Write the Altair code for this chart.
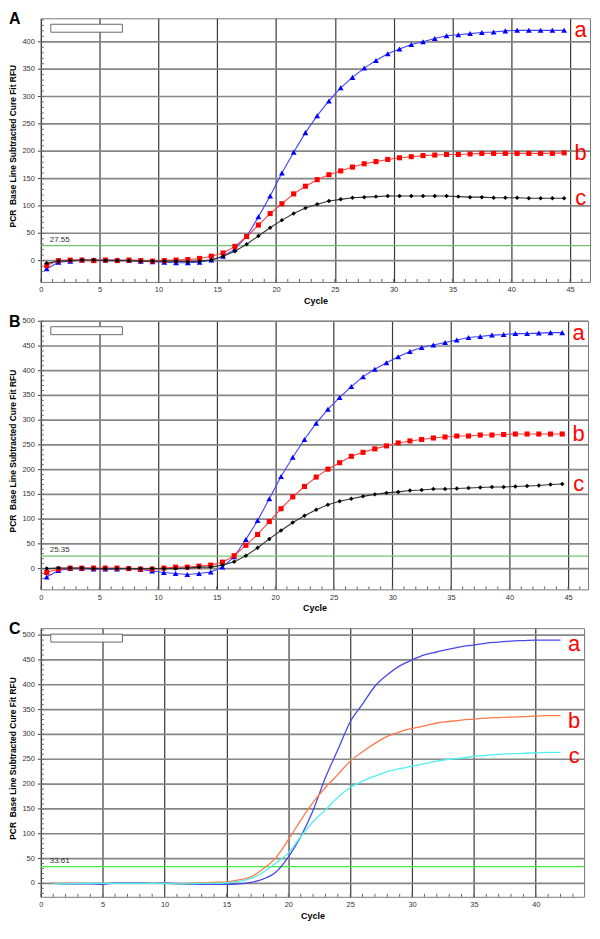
import altair as alt
import pandas as pd

FONT = "Liberation Sans"

# ---------------- data ----------------
CYCLES_AB = [0.5, 1.5, 2.5, 3.5, 4.5, 5.5, 6.5, 7.5, 8.5, 9.5,
             10.5, 11.5, 12.5, 13.5, 14.5, 15.5, 16.5, 17.5, 18.5, 19.5,
             20.5, 21.5, 22.5, 23.5, 24.5, 25.5, 26.5, 27.5, 28.5, 29.5,
             30.5, 31.5, 32.5, 33.5, 34.5, 35.5, 36.5, 37.5, 38.5, 39.5,
             40.5, 41.5, 42.5, 43.5, 44.5]

A_a = [-15, -3, -1, 1, 1, 1, 1, 0, -1, -2,
       -3, -4, -4, -3, 1, 8, 21, 44, 80, 118,
       160, 198, 234, 265, 292, 316, 335, 352, 366, 378,
       387, 395, 400, 406, 411, 413, 415, 417, 418, 420,
       421, 421, 421, 421, 421]
A_b = [-9, 0, 1, 1, 0, 1, 0, 1, 0, -1,
       0, 1, 2, 4, 8, 14, 26, 44, 65, 86,
       104, 122, 136, 148, 157, 164, 171, 177, 181, 185,
       188, 190, 192, 193, 194, 194, 195, 196, 196, 196,
       196, 196, 196, 196, 197]
A_c = [-5, -1, 0, 1, 1, 0, 0, 0, -1, -1,
       -1, -1, -2, -1, 1, 8, 17, 30, 45, 60,
       74, 86, 96, 103, 109, 112, 115, 116, 117, 118,
       118, 118, 118, 118, 118, 117, 116, 116, 115, 115,
       115, 114, 114, 114, 114]

B_a = [-17, -4, 0, 0, -1, -1, -1, 1, -2, -5,
       -8, -10, -12, -10, -7, 3, 24, 59, 97, 141,
       186, 225, 261, 294, 322, 346, 368, 388, 403, 416,
       428, 439, 447, 452, 457, 462, 467, 469, 472, 473,
       475, 475, 476, 477, 477]
B_b = [-8, -1, 1, 1, 1, 1, 1, 0, -1, -1,
       1, 3, 3, 5, 7, 13, 26, 47, 69, 95,
       121, 145, 166, 185, 201, 214, 227, 235, 242, 248,
       254, 258, 261, 264, 266, 268, 268, 270, 270, 271,
       272, 272, 272, 272, 272]
B_c = [0, 1, 1, 1, 0, 0, 0, 0, 0, 0,
       0, 0, 1, 3, 3, 7, 14, 26, 42, 60,
       77, 93, 107, 119, 129, 136, 141, 146, 150, 153,
       155, 158, 159, 161, 161, 162, 163, 164, 165, 165,
       166, 167, 168, 170, 171]

CYCLES_C = [1, 2, 3, 4, 5, 6, 7, 8, 9, 10,
            11, 12, 13, 14, 15, 16, 17, 18, 19, 20,
            21, 22, 23, 24, 25, 26, 27, 28, 29, 30,
            31, 32, 33, 34, 35, 36, 37, 38, 39, 40,
            41, 42]
C_a = [0, -1, -1, -1, -2, 1, 1, 1, 0, 1,
       -1, -2, -2, -2, -2, -1, 2, 9, 23, 53,
       94, 147, 213, 269, 325, 361, 397, 420, 438, 450,
       460, 466, 472, 477, 480, 484, 486, 488, 489, 490,
       490, 490]
C_b = [0, 0, 0, 0, 0, 0, 0, 0, 0, 0,
       -1, 0, 1, 2, 3, 7, 13, 30, 52, 88,
       127, 163, 193, 219, 246, 265, 282, 296, 305, 312,
       317, 323, 326, 329, 331, 333, 334, 335, 336, 337,
       338, 338]
C_c = [-1, -1, 0, 0, 0, 0, 0, 0, 0, 0,
       -1, -1, 0, 0, 1, 4, 10, 23, 41, 61,
       94, 124, 148, 173, 193, 206, 216, 225, 231, 236,
       241, 246, 250, 252, 256, 258, 260, 261, 262, 263,
       264, 264]

SERIES = ["a", "b", "c"]
THRESHOLDS = [27.55, 25.35, 33.61]
THRESHOLD_TEXT = ["27.55", "25.35", "33.61"]
PANEL_LETTERS = ["A", "B", "C"]

X_TICKS_AB = [0, 5, 10, 15, 20, 25, 30, 35, 40, 45]
X_TICKS_C = [0, 5, 10, 15, 20, 25, 30, 35, 40]
Y_TICKS_A = [0, 50, 100, 150, 200, 250, 300, 350, 400]
Y_TICKS_BC = [0, 50, 100, 150, 200, 250, 300, 350, 400, 450, 500]

END_LABEL_X = [45.9, 45.9, 43.1]
END_LABEL_Y_A = [421, 196, 114]
END_LABEL_Y_B = [477, 272, 171]
END_LABEL_Y_C = [482, 327, 256]

Y_TITLE = "PCR\u00a0\u00a0Base Line Subtracted Cure Fit RFU"

SHAPES = ["triangle-up", "square", "diamond"]
SIZES = [34, 26, 20]


def panel(letter, cycles, series_vals, xdom, ydom, xticks, yticks, thr, thr_txt,
          lab_x, lab_y, w, h, line_colors, marker_colors, thr_color, smooth):
    xs = alt.Scale(domain=xdom, nice=False, zero=False)
    ys = alt.Scale(domain=ydom, nice=False, zero=False)
    xaxis = alt.Axis(values=xticks, title="Cycle", grid=True, gridColor="#3a3a3a",
                     gridWidth=1.2, ticks=False, labelPadding=4, labelFontSize=7.5,
                     labelColor="#333333", labelFont=FONT, titleFont=FONT,
                     titleFontSize=9, titleFontWeight="bold", titleColor="#000000",
                     titlePadding=3, domain=False, format="d", labelFlush=False,
                     labelOverlap=False)

    X = lambda: alt.X("cycle:Q", scale=xs)
    Y = lambda: alt.Y("rfu:Q", scale=ys)

    tick_df = pd.DataFrame({"rfu": yticks, "t": [str(v) for v in yticks]})

    # horizontal grid lines (y axis drawn by hand)
    hgrid = alt.Chart(tick_df).mark_rule(color="#868686", strokeWidth=1.7).encode(
        y=alt.Y("rfu:Q", scale=ys, axis=None))
    yticks_out = alt.Chart(tick_df).mark_rule(color="#444444", strokeWidth=1).encode(
        y=Y(), x=alt.value(-3), x2=alt.value(0))
    ylabels = alt.Chart(tick_df).mark_text(align="right", baseline="middle", fontSize=7.5,
                                           font=FONT, color="#333333").encode(
        y=Y(), x=alt.value(-6), text="t:N")
    ytitle = alt.Chart(pd.DataFrame({"t": [Y_TITLE]})).mark_text(
        angle=270, align="center", baseline="middle", fontSize=8.5, fontWeight="bold",
        font=FONT, color="#000000").encode(
        x=alt.value(-27.5), y=alt.value(h / 2 - 4), text="t:N")

    # minor ticks
    n_minor = int(xdom[1]) + 1
    minor_x = pd.DataFrame({"cycle": list(range(0, n_minor))})
    mx = alt.Chart(minor_x).mark_rule(color="#666666", strokeWidth=1).encode(
        x=alt.X("cycle:Q", scale=xs, axis=xaxis),
        y=alt.value(h), y2=alt.value(h - 3))
    minor_y = pd.DataFrame({"rfu": list(range(-20, int(ydom[1]) + 1, 10))})
    my = alt.Chart(minor_y).mark_rule(color="#666666", strokeWidth=1).encode(
        y=Y(), x=alt.value(0), x2=alt.value(3))

    thr_df = pd.DataFrame({"rfu": [thr], "t": [thr_txt]})
    thr_rule = alt.Chart(thr_df).mark_rule(color=thr_color, strokeWidth=1.2).encode(y=Y())
    thr_text = alt.Chart(thr_df).mark_text(align="left", baseline="bottom", dy=-2,
                                           fontSize=8, font=FONT, color="#333333").encode(
        x=alt.value(9), y=Y(), text="t:N")

    box = alt.Chart(pd.DataFrame({"d": [0]})).mark_rect(
        fill="white", stroke="#6a6a6a", strokeWidth=1).encode(
        x=alt.value(10), x2=alt.value(82), y=alt.value(6), y2=alt.value(14))

    layers = [hgrid, mx, my, yticks_out, ylabels, ytitle, thr_rule, thr_text, box]

    for i, s in enumerate(SERIES):
        df = pd.DataFrame({"cycle": cycles, "rfu": series_vals[i]})
        kw = dict(strokeWidth=1.1, color=line_colors[i])
        if smooth:
            kw["interpolate"] = "monotone"
            kw["strokeWidth"] = 1.3
        layers.append(alt.Chart(df).mark_line(**kw).encode(x=X(), y=Y()))
        if marker_colors is not None:
            layers.append(alt.Chart(df).mark_point(
                filled=True, opacity=1, strokeWidth=0, shape=SHAPES[i], size=SIZES[i],
                color=marker_colors[i]).encode(x=X(), y=Y()))

    lab_df = pd.DataFrame({"cycle": lab_x, "rfu": lab_y, "t": SERIES})
    labs = alt.Chart(lab_df).mark_text(color="#ff0000", fontSize=22, font=FONT,
                                       align="center", baseline="middle").encode(
        x=X(), y=Y(), text="t:N")
    layers.append(labs)

    let = alt.Chart(pd.DataFrame({"t": [letter]})).mark_text(
        align="left", baseline="top", fontSize=16, fontWeight="bold",
        font=FONT, color="#000000").encode(
        x=alt.value(-32), y=alt.value(-7), text="t:N")
    layers.append(let)

    return alt.layer(*layers).properties(width=w, height=h)


pA = panel("A", CYCLES_AB, [A_a, A_b, A_c], [0, 46.7], [-39, 443], X_TICKS_AB, Y_TICKS_A,
           THRESHOLDS[0], THRESHOLD_TEXT[0], END_LABEL_X[0:1] * 3, END_LABEL_Y_A, 552, 265,
           ["#4040ff", "#ff4040", "#333333"], ["#0000ff", "#ff0000", "#000000"], "#70c470", False)
pB = panel("B", CYCLES_AB, [B_a, B_b, B_c], [0, 46.7], [-42, 501], X_TICKS_AB, Y_TICKS_BC,
           THRESHOLDS[1], THRESHOLD_TEXT[1], END_LABEL_X[1:2] * 3, END_LABEL_Y_B, 550, 270,
           ["#4040ff", "#ff4040", "#333333"], ["#0000ff", "#ff0000", "#000000"], "#70c470", False)
pC = panel("C", CYCLES_C, [C_a, C_b, C_c], [0, 43.9], [-27, 514], X_TICKS_C, Y_TICKS_BC,
           THRESHOLDS[2], THRESHOLD_TEXT[2], END_LABEL_X[2:3] * 3, END_LABEL_Y_C, 546, 270,
           ["#4848e8", "#ff7a48", "#4ef0f0"], None, "#40ee40", True)

chart = alt.vconcat(pA, pB, pC, spacing=7).properties(padding=0).configure(
    background="white"
).configure_view(stroke="#7a7a7a", strokeWidth=1)

chart.save("out.html", embed_options={"renderer": "svg", "actions": False})
